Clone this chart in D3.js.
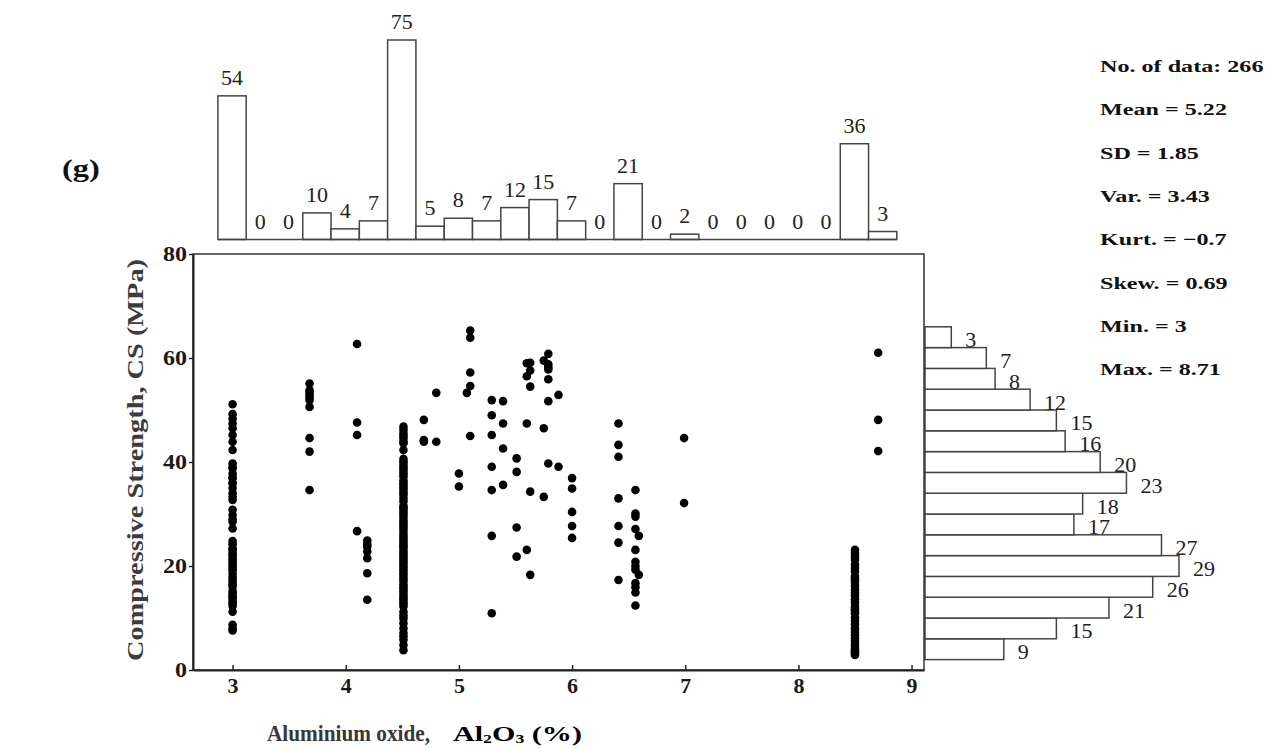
<!DOCTYPE html>
<html>
<head>
<meta charset="utf-8">
<script src="https://cdn.jsdelivr.net/npm/d3@7"></script>
<style>
  body { margin: 0; background: #fff; }
  svg { display: block; }
</style>
</head>
<body>
<div id="chart"></div>
<script>
// Top histogram: Al2O3 bins (width 0.25 starting at 2.87)
const topCounts = [54, 0, 0, 10, 4, 7, 75, 5, 8, 7, 12, 15, 7, 0, 21, 0, 2, 0, 0, 0, 0, 0, 36, 3];
const topBinStart = 2.87;
const topBinWidth = 0.25;

// Right histogram: CS bins of 4 MPa from 2 (bottom to top)
const rightCounts = [9, 15, 21, 26, 29, 27, 17, 18, 23, 20, 16, 15, 12, 8, 7, 3];
const rightBinStart = 2;
const rightBinWidth = 4;

// Scatter: Al2O3 levels and the CS values read at each level
const aluminaLevels = [3.0, 3.68, 4.1, 4.19, 4.51, 4.69, 4.8, 5.0, 5.07, 5.1, 5.29, 5.39, 5.51,
  5.6, 5.63, 5.75, 5.79, 5.88, 6.0, 6.41, 6.56, 6.59, 6.99, 8.5, 8.705];
const strengthAtLevel = [
  [51.1, 49.2, 48.3, 47.4, 46.5, 45.2, 43.9, 42.3, 39.7, 39.0, 38.8, 37.8, 37.0, 36.9, 36.0, 35.9,
   35.0, 34.0, 33.3, 32.7, 30.8, 29.8, 29.0, 28.5, 27.2, 24.8, 24.2, 23.4, 23.0, 22.4, 22.0, 21.5,
   21.0, 20.5, 20.0, 19.6, 19.2, 18.5, 17.9, 17.5, 17.0, 16.5, 16.0, 15.2, 14.7, 14.2, 13.8, 13.2,
   12.8, 12.3, 11.2, 8.7, 8.0, 7.6],
  [55.1, 53.8, 53.3, 52.9, 52.4, 51.9, 50.6, 44.6, 42.0, 34.6],
  [62.7, 47.6, 45.2, 26.7],
  [24.9, 24.2, 23.7, 22.8, 21.5, 18.6, 13.5],
  [46.8, 45.5, 44.6, 43.6, 42.3, 40.1, 39.1, 38.1, 37.2, 35.6, 34.6, 33.7, 32.4, 30.8, 29.8, 28.2,
   27.2, 26.0, 25.0, 24.0, 23.1, 22.1, 21.2, 20.2, 18.6, 17.6, 16.0, 15.1, 14.1, 13.1, 12.2, 11.2,
   9.9, 9.0, 8.0, 7.1, 5.8, 4.8, 3.8,
   46.2, 45.0, 44.0, 40.6, 39.6, 38.6, 37.7, 36.5, 36.0, 35.1, 34.1, 33.0, 31.6, 31.2, 30.3, 29.3,
   28.7, 27.7, 26.6, 25.5, 24.5, 23.6, 22.6, 21.7, 20.7, 19.7, 19.2, 18.1, 17.1, 16.5, 15.6, 14.6,
   13.6, 12.7, 10.5, 6.5],
  [48.1, 44.2, 43.9],
  [53.3, 43.9],
  [37.8, 35.3],
  [53.3],
  [65.3, 63.9, 57.2, 54.6, 45.0],
  [51.9, 49.0, 45.2, 39.1, 34.6, 25.8, 10.9],
  [51.7, 47.4, 42.6, 35.6],
  [40.7, 38.1, 27.4, 21.8],
  [59.0, 56.5, 47.4, 23.1],
  [59.1, 57.6, 54.5, 34.3, 18.3],
  [59.5, 46.5, 33.3],
  [60.8, 58.8, 58.2, 57.8, 55.9, 51.7, 39.7],
  [52.9, 39.1],
  [36.9, 34.9, 30.4, 27.7, 25.4],
  [47.4, 43.3, 41.0, 33.0, 27.7, 24.5, 17.3],
  [34.6, 30.1, 29.5, 27.1, 23.1, 20.8, 20.0, 19.3, 16.7, 15.9, 14.9, 12.4],
  [25.8, 18.3],
  [44.6, 32.1],
  [23.1, 22.5, 21.8, 21.2, 20.3, 19.6, 19.0, 18.1, 17.7, 17.4, 16.9, 16.2, 15.5, 14.8, 14.3, 13.6,
   13.0, 12.2, 11.8, 11.5, 10.9, 10.1, 9.4, 8.8, 8.0, 7.3, 6.8, 6.1, 5.6, 5.0, 4.6, 4.1, 3.7, 3.4,
   3.1, 2.9],
  [61.0, 48.1, 42.1]
];

const xTicks = [3, 4, 5, 6, 7, 8, 9];
const yTicks = [0, 20, 40, 60, 80];

const statLines = ["No. of data: 266", "Mean = 5.22", "SD = 1.85", "Var. = 3.43",
  "Kurt. = \u22120.7", "Skew. = 0.69", "Min. = 3", "Max. = 8.71"];

const width = 1277;
const height = 749;
const serif = "'Liberation Serif', 'Times New Roman', serif";

const svg = d3.select("#chart")
  .append("svg")
  .attr("width", width)
  .attr("height", height);

// Scales
const x = d3.scaleLinear().domain([2.65, 9.11]).range([193, 924]);
const y = d3.scaleLinear().domain([0, 80]).range([670, 254]);
const yTop = d3.scaleLinear().domain([0, 75]).range([239.5, 40]);
const xRight = d3.scaleLinear().domain([0, 29]).range([925, 1179]);

// Flatten scatter points
const points = [];
aluminaLevels.forEach((a, i) => {
  strengthAtLevel[i].forEach(cs => points.push({ al: a, cs: cs }));
});

// ---- top histogram ----
const topG = svg.append("g");
const topBins = topCounts.map((c, i) => ({
  x0: topBinStart + i * topBinWidth,
  x1: topBinStart + (i + 1) * topBinWidth,
  count: c
}));

topG.selectAll("rect")
  .data(topBins.filter(d => d.count > 0))
  .enter().append("rect")
  .attr("x", d => x(d.x0))
  .attr("y", d => yTop(d.count))
  .attr("width", d => x(d.x1) - x(d.x0))
  .attr("height", d => yTop(0) - yTop(d.count))
  .attr("fill", "#fff")
  .attr("stroke", "#444")
  .attr("stroke-width", 1.5);

topG.append("line")
  .attr("x1", x(topBins[0].x0))
  .attr("x2", x(topBins[topBins.length - 1].x1))
  .attr("y1", yTop(0))
  .attr("y2", yTop(0))
  .attr("stroke", "#444")
  .attr("stroke-width", 1.5);

topG.selectAll("text")
  .data(topBins)
  .enter().append("text")
  .attr("transform", d => `translate(${(x(d.x0) + x(d.x1)) / 2},${yTop(d.count) - 11}) scale(1.1,1)`)
  .attr("text-anchor", "middle")
  .style("font-family", serif)
  .style("font-size", "20px")
  .style("fill", "#222")
  .text(d => d.count);

// ---- right histogram ----
const rightG = svg.append("g");
const rightBins = rightCounts.map((c, i) => ({
  y0: rightBinStart + i * rightBinWidth,
  y1: rightBinStart + (i + 1) * rightBinWidth,
  count: c
}));

rightG.selectAll("rect")
  .data(rightBins)
  .enter().append("rect")
  .attr("x", xRight(0))
  .attr("y", d => y(d.y1))
  .attr("width", d => xRight(d.count) - xRight(0))
  .attr("height", d => y(d.y0) - y(d.y1))
  .attr("fill", "#fff")
  .attr("stroke", "#444")
  .attr("stroke-width", 1.5);

rightG.selectAll("text")
  .data(rightBins)
  .enter().append("text")
  .attr("transform", d => `translate(${xRight(d.count) + 14},${(y(d.y0) + y(d.y1)) / 2 + 10}) scale(1.1,1)`)
  .style("font-family", serif)
  .style("font-size", "20px")
  .style("fill", "#222")
  .text(d => d.count);

// ---- scatter frame and axes ----
const frame = svg.append("g");
frame.append("rect")
  .attr("x", x.range()[0])
  .attr("y", y.range()[1])
  .attr("width", x.range()[1] - x.range()[0])
  .attr("height", y.range()[0] - y.range()[1])
  .attr("fill", "none")
  .attr("stroke", "#333")
  .attr("stroke-width", 1.5);

const xAxis = svg.append("g")
  .attr("transform", `translate(0,${y.range()[0]})`)
  .call(d3.axisBottom(x).tickValues(xTicks).tickFormat(d3.format("d"))
    .tickSizeInner(-5).tickSizeOuter(0).tickPadding(9));

const yAxis = svg.append("g")
  .attr("transform", `translate(${x.range()[0]},0)`)
  .call(d3.axisLeft(y).tickValues(yTicks).tickFormat(d3.format("d"))
    .tickSizeInner(4).tickSizeOuter(0).tickPadding(1));

[xAxis, yAxis].forEach(ax => {
  ax.select(".domain").attr("stroke", "#222").attr("stroke-width", 2);
  ax.selectAll(".tick line").attr("stroke", "#222").attr("stroke-width", 1.5);
  ax.selectAll(".tick text")
    .style("font-family", serif)
    .style("font-size", "20px")
    .style("font-weight", "bold")
    .style("fill", "#1a1a1a");
});
yAxis.selectAll(".tick text").attr("transform", "scale(1.2,1)");
xAxis.selectAll(".tick text").attr("transform", "scale(1.1,1)");

// ---- scatter points ----
svg.append("g")
  .selectAll("circle")
  .data(points)
  .enter().append("circle")
  .attr("cx", d => x(d.al))
  .attr("cy", d => y(d.cs))
  .attr("r", 4.3)
  .attr("fill", "#000");

// ---- axis titles ----
svg.append("text")
  .attr("transform", `translate(143,${(y(0) + y(80)) / 2 - 2}) rotate(-90)`)
  .attr("text-anchor", "middle")
  .attr("textLength", 402)
  .attr("lengthAdjust", "spacingAndGlyphs")
  .style("font-family", serif)
  .style("font-size", "23px")
  .style("font-weight", "bold")
  .style("fill", "#3c3c3c")
  .text("Compressive Strength, CS (MPa)");

svg.append("text")
  .attr("x", 267)
  .attr("y", 741)
  .attr("textLength", 163)
  .attr("lengthAdjust", "spacingAndGlyphs")
  .style("font-family", serif)
  .style("font-size", "24px")
  .style("font-weight", "bold")
  .style("fill", "#383838")
  .text("Aluminium oxide,");

const alText = svg.append("text")
  .attr("x", 453)
  .attr("y", 741)
  .attr("textLength", 129)
  .attr("lengthAdjust", "spacingAndGlyphs")
  .style("font-family", serif)
  .style("font-size", "22px")
  .style("font-weight", "bold")
  .style("fill", "#000");
alText.append("tspan").text("Al");
alText.append("tspan").attr("dy", 2).style("font-size", "13px").text("2");
alText.append("tspan").attr("dy", -2).text("O");
alText.append("tspan").attr("dy", 2).style("font-size", "13px").text("3");
alText.append("tspan").attr("dy", -2).text(" (%)");

// ---- panel tag ----
svg.append("text")
  .attr("transform", "translate(62,177) scale(1.3,1)")
  .style("font-family", serif)
  .style("font-size", "25px")
  .style("font-weight", "bold")
  .style("fill", "#111")
  .text("(g)");

// ---- statistics ----
svg.append("g")
  .selectAll("text")
  .data(statLines)
  .enter().append("text")
  .attr("transform", (d, i) => `translate(1100,${72 + i * 43.3}) scale(1.42,1)`)
  .style("font-family", serif)
  .style("font-size", "17px")
  .style("font-weight", "bold")
  .style("fill", "#111")
  .text(d => d);
</script>
</body>
</html>
